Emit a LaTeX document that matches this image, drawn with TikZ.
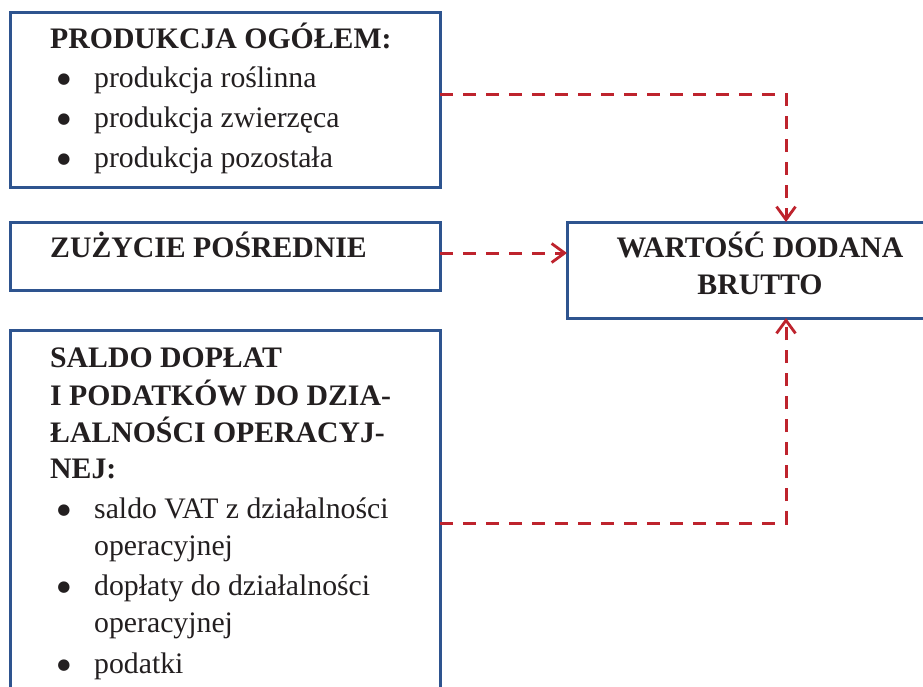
\documentclass[tikz,border=0pt]{standalone}
\usepackage{fontspec}
\setmainfont{Liberation Serif}
\newfontfamily\symfont{DejaVu Sans}
\usetikzlibrary{arrows.meta}
\definecolor{boxblue}{RGB}{46,84,143}
\definecolor{linered}{RGB}{190,35,45}
\definecolor{ink}{RGB}{35,31,32}
\begin{document}
\begin{tikzpicture}[x=1pt,y=-1pt,
 box/.style={draw=boxblue, line width=3pt, rectangle, inner sep=0pt, outer sep=0pt, anchor=north west},
 head/.style={anchor=base west, inner sep=0pt, font=\fontsize{29.75}{36}\selectfont\bfseries, text=ink},
 headc/.style={anchor=base, inner sep=0pt, font=\fontsize{29.75}{36}\selectfont\bfseries, text=ink},
 item/.style={anchor=base west, inner sep=0pt, font=\fontsize{29.75}{36}\selectfont, text=ink},
 bul/.style={anchor=base, inner sep=0pt, font=\symfont\fontsize{15}{16}\selectfont, text=ink, yshift=4pt},
 conn/.style={draw=linered, line width=3pt, dash pattern=on 13pt off 10pt, line join=miter,
   -{Straight Barb[length=13pt,width=19pt,line width=2.8pt]}},
]
\clip (0,0) rectangle (923,686);
\fill[white] (0,0) rectangle (923,686);
% boxes
\node[box, minimum width=430pt, minimum height=175pt] (prod) at (10,12) {};
\node[box, minimum width=430pt, minimum height=68pt] (zuz) at (10,222) {};
\node[box, minimum width=430pt, minimum height=400pt] (saldo) at (10,330) {};
\node[box, minimum width=390pt, minimum height=96pt] (wdb) at (567,222) {};
% texts box 1
\node[head] (t1) at (50,48) {PRODUKCJA OGÓŁEM:};
\node[bul] (b11) at (64,87) {●};
\node[item] (t11) at (94,87) {produkcja roślinna};
\node[bul] (b12) at (64,127) {●};
\node[item] (t12) at (94,127) {produkcja zwierzęca};
\node[bul] (b13) at (64,167) {●};
\node[item] (t13) at (94,167) {produkcja pozostała};
% box 2
\node[head] (t2) at (50,257) {ZUŻYCIE POŚREDNIE};
% right box
\node[headc] (tw1) at (760,257) {WARTOŚĆ DODANA};
\node[headc] (tw2) at (760,294) {BRUTTO};
% box 3
\node[head] (t31) at (50,367) {SALDO DOPŁAT};
\node[head] (t32) at (50,405) {I PODATKÓW DO DZIA-};
\node[head] (t33) at (50,442) {ŁALNOŚCI OPERACYJ-};
\node[head] (t34) at (50,478) {NEJ:};
\node[bul] (b31) at (64,518) {●};
\node[item] (t35) at (94,518) {saldo VAT z działalności};
\node[item] (t36) at (94,555) {operacyjnej};
\node[bul] (b32) at (64,595) {●};
\node[item] (t37) at (94,595) {dopłaty do działalności};
\node[item] (t38) at (94,632) {operacyjnej};
\node[bul] (b33) at (64,673) {●};
\node[item] (t39) at (94,673) {podatki};
% connectors
\coordinate (c1) at (786,94);
\coordinate (c2) at (500,253);
\coordinate (c3) at (786,523);
\draw[conn] (prod.east |- c1) -- (c1) -- (c1 |- wdb.north);
\draw[conn] (zuz.east |- c2) -- (wdb.west |- c2);
\draw[conn] (saldo.east |- c3) -- (c3) -- (c3 |- wdb.south);
\end{tikzpicture}
\end{document}
